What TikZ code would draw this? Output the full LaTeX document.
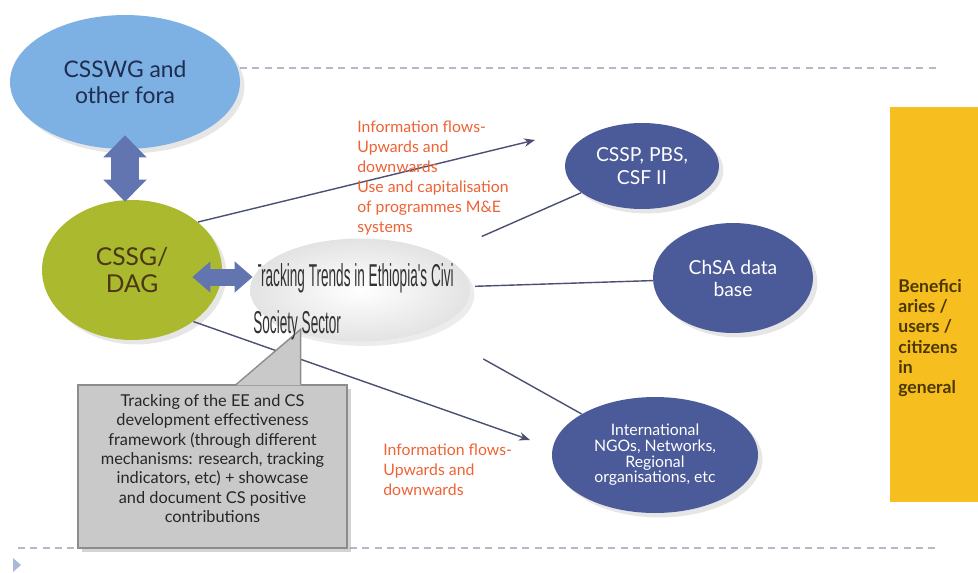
\documentclass[tikz,border=0pt]{standalone}
\usepackage{fontspec}
\setmainfont{Lato}
\newfontfamily\narrowfont{Liberation Sans}
\usetikzlibrary{arrows.meta,shadows,calc,shapes.geometric}

\definecolor{forablue}{RGB}{125,176,227}
\definecolor{foratext}{RGB}{30,45,80}
\definecolor{dagreen}{RGB}{170,185,45}
\definecolor{dagtext}{RGB}{75,55,20}
\definecolor{navy}{RGB}{75,90,152}
\definecolor{fatblue}{RGB}{98,117,176}
\definecolor{linkgray}{RGB}{75,80,115}
\definecolor{flowred}{RGB}{238,98,52}
\definecolor{notegray}{RGB}{201,201,201}
\definecolor{noteedge}{RGB}{140,140,140}
\definecolor{gold}{RGB}{246,190,31}
\definecolor{goldtext}{RGB}{75,55,0}
\definecolor{rulegray}{RGB}{180,186,200}
\definecolor{markblue}{RGB}{170,185,215}

\begin{document}
\begin{tikzpicture}[
  x=0.02cm, y=-0.02cm,
  fora/.style={ellipse, fill=forablue, minimum width=4.6cm, minimum height=2.68cm, inner sep=0pt, font=\fontsize{13}{14.5}\selectfont, text=foratext, align=center, drop shadow={opacity=0.2}},
  dag/.style={ellipse, fill=dagreen, minimum width=3.6cm, minimum height=2.8cm, inner sep=0pt, font=\fontsize{14}{15.5}\selectfont, text=dagtext, align=center, drop shadow={opacity=0.2}},
  trackell/.style={ellipse, shading=radial, inner color=white, outer color=gray!22, minimum width=4.4cm, minimum height=2.06cm, drop shadow={opacity=0.15}},
  tracklbl/.style={font=\narrowfont\fontsize{18}{26.5}\selectfont, text=black!80, align=left, inner sep=0pt},
  partner/.style={ellipse, fill=navy, text=white, inner sep=0pt, align=center, drop shadow={opacity=0.2}},
  fatarrow/.style={draw=fatblue, line width=0.56cm, {Triangle[width=0.84cm,length=0.44cm]}-{Triangle[width=0.84cm,length=0.44cm]}},
  fatarrowsm/.style={draw=fatblue, line width=0.34cm, {Triangle[width=0.6cm,length=0.36cm]}-{Triangle[width=0.6cm,length=0.36cm]}},
  flowarrow/.style={draw=linkgray, line width=0.8pt, -{Stealth[length=0.22cm,width=0.17cm]}},
  link/.style={draw=linkgray, line width=0.8pt},
  flowlbl/.style={font=\fontsize{9}{11.3}\selectfont, text=flowred, align=left, inner sep=0pt},
  notebox/.style={rectangle, fill=notegray, draw=noteedge, line width=0.8pt, minimum width=5.38cm, minimum height=3.26cm, drop shadow={opacity=0.35}},
  notelbl/.style={font=\fontsize{9.3}{11}\selectfont, text=black!85, align=center, inner sep=0pt},
  benefbox/.style={rectangle, fill=gold, minimum width=1.76cm, minimum height=7.9cm, inner sep=0pt},
  beneflbl/.style={font=\bfseries\fontsize{10}{11.5}\selectfont, text=goldtext, align=left, inner sep=0pt},
  rule/.style={draw=rulegray, line width=0.8pt, dash pattern=on 4pt off 3pt}
]
  \useasboundingbox (0,0) rectangle (978,572);

  % Slide rules
  \draw[rule] (240,68) -- (940,68);
  \draw[rule] (18,548) -- (940,548);
  \fill[markblue] (13,558) -- (21,565) -- (13,572) -- cycle;

  % Coordination (left)
  \node[fora] (csswg) at (125,82) {CSSWG and\\other fora};
  \node[dag] (cssg) at (132,270) {CSSG/\\DAG};

  % Tracking (middle)
  \node[trackell] (track) at (360,290) {};

  % Partners (right)
  \node[partner, minimum width=3.08cm, minimum height=1.72cm, font=\fontsize{11}{13}\selectfont] (cssp) at (642,166) {CSSP, PBS,\\CSF II};
  \node[partner, minimum width=3.2cm, minimum height=2.2cm, font=\fontsize{11}{12.5}\selectfont] (chsa) at (733,278) {ChSA data\\base};
  \node[partner, minimum width=4.12cm, minimum height=2.32cm, font=\fontsize{9}{8.9}\selectfont] (intl) at (655,455) {International\\NGOs, Networks,\\Regional\\organisations, etc};

  % Beneficiaries
  \node[benefbox] (benef) at (934,304.5) {};
  \node[beneflbl, anchor=west] (beneftxt) at (898,338) {Benefici\\aries /\\users /\\citizens\\in\\general};

  % Fat arrows
  \draw[fatarrow] ($(csswg.south)+(0,-14)$) -- ($(csswg.south |- cssg.north)+(0,2)$);
  \draw[fatarrowsm] ($(cssg.east)+(-30,7)$) -- ($(track.west)+(3,-13)$);

  % Information flows
  \coordinate (upTip) at (535,140);
  \coordinate (downTip) at (530,440);
  \draw[flowarrow] (cssg.36) -- (upTip);
  \draw[flowarrow] (cssg.-40) -- (downTip);
  \draw[link, shorten <=0.9cm] (track) -- (cssp);
  \draw[link, shorten <=0.1cm] (track) -- (chsa);
  \draw[link, shorten <=1.2cm] (track) -- (intl);

  \node[flowlbl, anchor=north west] (flowup) at (357,121) {Information flows-\\Upwards and\\downwards\\Use and capitalisation\\of programmes M\&E\\systems};
  \node[flowlbl, anchor=north west] (flowdown) at (383,444) {Information flows-\\Upwards and\\downwards};

  % Callout
  \node[notebox] (note) at (212.5,466.5) {};
  \fill[notegray] ($(note.north west)+(159,1)$) -- ($(note.north east)+(-47,-55)$) -- ($(note.north east)+(-47,1)$) -- cycle;
  \draw[noteedge, line width=0.8pt] ($(note.north west)+(159,0)$) -- ($(note.north east)+(-47,-55)$) -- ($(note.north east)+(-47,0)$);
  \node[notelbl] (notetxt) at ($(note.center)+(0,-8)$) {Tracking of the EE and CS\\development effectiveness\\framework (through different\\mechanisms: research, tracking\\indicators, etc) + showcase\\and document CS positive\\contributions};

  % Tracking title
  \begin{scope}
    \clip (258,240) rectangle (453,300) (245,300) rectangle (456,345);
    \node[tracklbl, anchor=west] (tracktxt) at (253,302) {\scalebox{0.43}[1]{Tracking Trends in Ethiopia's Civil}\\\scalebox{0.43}[1]{Society Sector}};
  \end{scope}

\end{tikzpicture}
\end{document}
